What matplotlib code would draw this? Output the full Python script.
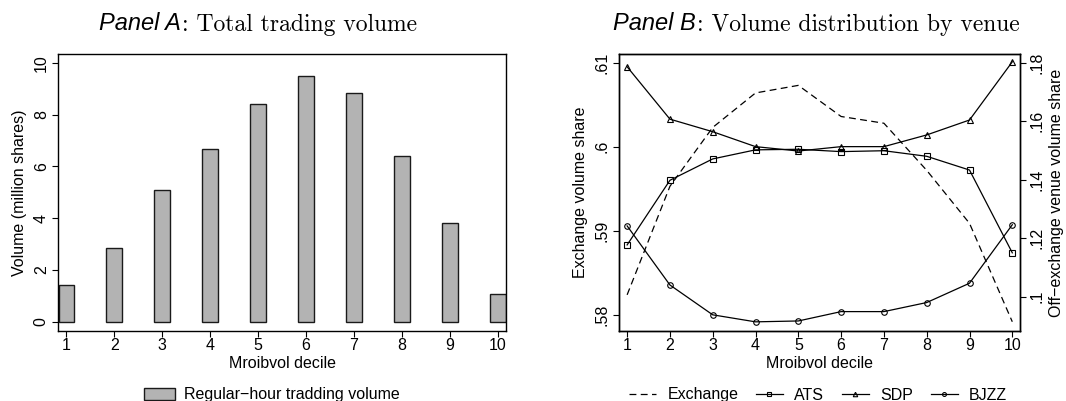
import matplotlib
matplotlib.use("Agg")
import matplotlib.pyplot as plt
from matplotlib.ticker import FuncFormatter

# data
deciles = [1, 2, 3, 4, 5, 6, 7, 8, 9, 10]
volume = [1.41, 2.85, 5.09, 6.66, 8.42, 9.50, 8.84, 6.40, 3.82, 1.08]
exchange = [.5824, .5953, .6023, .6064, .6073, .6036, .6028, .5972, .5909, .5792]
ats = [.1177, .1398, .1471, .1502, .1504, .1496, .1499, .1480, .1433, .1150]
sdp = [.1786, .1607, .1564, .1513, .1498, .1513, .1513, .1553, .1604, .1803]
bjzz = [.1242, .1040, .0938, .0914, .0917, .0949, .0949, .0980, .1046, .1246]

vol_ticks = [0, 2, 4, 6, 8, 10]
exch_ticks = [.58, .59, .60, .61]
off_ticks = [.10, .12, .14, .16, .18]

plt.rcParams["font.family"] = ["Liberation Sans", "DejaVu Sans"]
plt.rcParams["font.size"] = 11.5

W, H = 1066, 401
fig = plt.figure(figsize=(W / 100, H / 100), dpi=100)


def box(l, t, r, b):
    return [l / W, 1 - b / H, (r - l) / W, (b - t) / H]


def stata_fmt(v, pos):
    s = ("%.2f" % v).rstrip("0").rstrip(".")
    return s[1:] if s.startswith("0.") else s


def style_axis(ax):
    for sp in ax.spines.values():
        sp.set_linewidth(1.0)
    ax.tick_params(length=4.3, width=0.8, labelsize=11.5)
    ax.tick_params(axis="x", pad=1)
    ax.tick_params(axis="y", pad=2.5, labelrotation=90)
    for lab in ax.get_yticklabels():
        lab.set_va("center")


# Panel A
axA = fig.add_axes(box(58.3, 54, 506, 331))
axA.bar(deciles, volume, width=0.33, color="#b3b3b3", edgecolor="#1a1a1a",
        linewidth=1.0, label="Regular\u2212hour tradding volume")
axA.set_xlim(0.83, 10.17)
axA.set_ylim(-0.36, 10.34)
axA.set_xticks(deciles)
axA.set_yticks(vol_ticks)
axA.set_xlabel("Mroibvol decile", labelpad=2)
axA.set_ylabel("Volume (million shares)", labelpad=5)
style_axis(axA)
axA.legend(loc="center", bbox_to_anchor=(272 / W, 1 - 395 / H),
           bbox_transform=fig.transFigure, frameon=False, fontsize=11.5,
           handlelength=1.9, handleheight=0.75, handletextpad=0.6)

# Panel B
axB = fig.add_axes(box(619, 54, 1020, 331))
axR = axB.twinx()
axB.plot(deciles, exchange, color="black", lw=0.9, ls=(0, (5.5, 3.5)),
         label="Exchange")
mk = dict(color="black", lw=0.9, mfc="none", mec="black", mew=0.8)
axR.plot(deciles, ats, marker="s", ms=4.2, label="ATS", **mk)
axR.plot(deciles, sdp, marker="^", ms=4.6, label="SDP", **mk)
axR.plot(deciles, bjzz, marker="o", ms=4.0, label="BJZZ", **mk)
axB.set_xlim(0.81, 10.18)
axB.set_ylim(.5781, .61103)
axR.set_ylim(.08827, .18297)
axB.set_xticks(deciles)
axB.set_yticks(exch_ticks)
axR.set_yticks(off_ticks)
axB.yaxis.set_major_formatter(FuncFormatter(stata_fmt))
axR.yaxis.set_major_formatter(FuncFormatter(stata_fmt))
axB.set_xlabel("Mroibvol decile", labelpad=2)
axB.set_ylabel("Exchange volume share", labelpad=5)
axR.set_ylabel("Off\u2212exchange venue volume share", labelpad=3)
style_axis(axB)
style_axis(axR)

hB, lB = axB.get_legend_handles_labels()
hR, lR = axR.get_legend_handles_labels()
axB.legend(hB + hR, lB + lR, loc="center", ncol=4,
           bbox_to_anchor=(818 / W, 1 - 395 / H), bbox_transform=fig.transFigure,
           frameon=False, fontsize=11.5, handlelength=1.7, handletextpad=0.7,
           columnspacing=1.1, markerscale=0.7)

# titles: italic sans part + serif part
ty = 1 - 30.5 / H
fig.text(181 / W, ty, "Panel A", style="italic", fontsize=17, ha="right", va="baseline")
fig.text(182 / W, ty, ": Total trading volume", family="cmr10", fontsize=17,
         ha="left", va="baseline")
fig.text(696 / W, ty, "Panel B", style="italic", fontsize=17, ha="right", va="baseline")
fig.text(697 / W, ty, ": Volume distribution by venue", family="cmr10", fontsize=17,
         ha="left", va="baseline")

fig.savefig("out.png", dpi=100)
